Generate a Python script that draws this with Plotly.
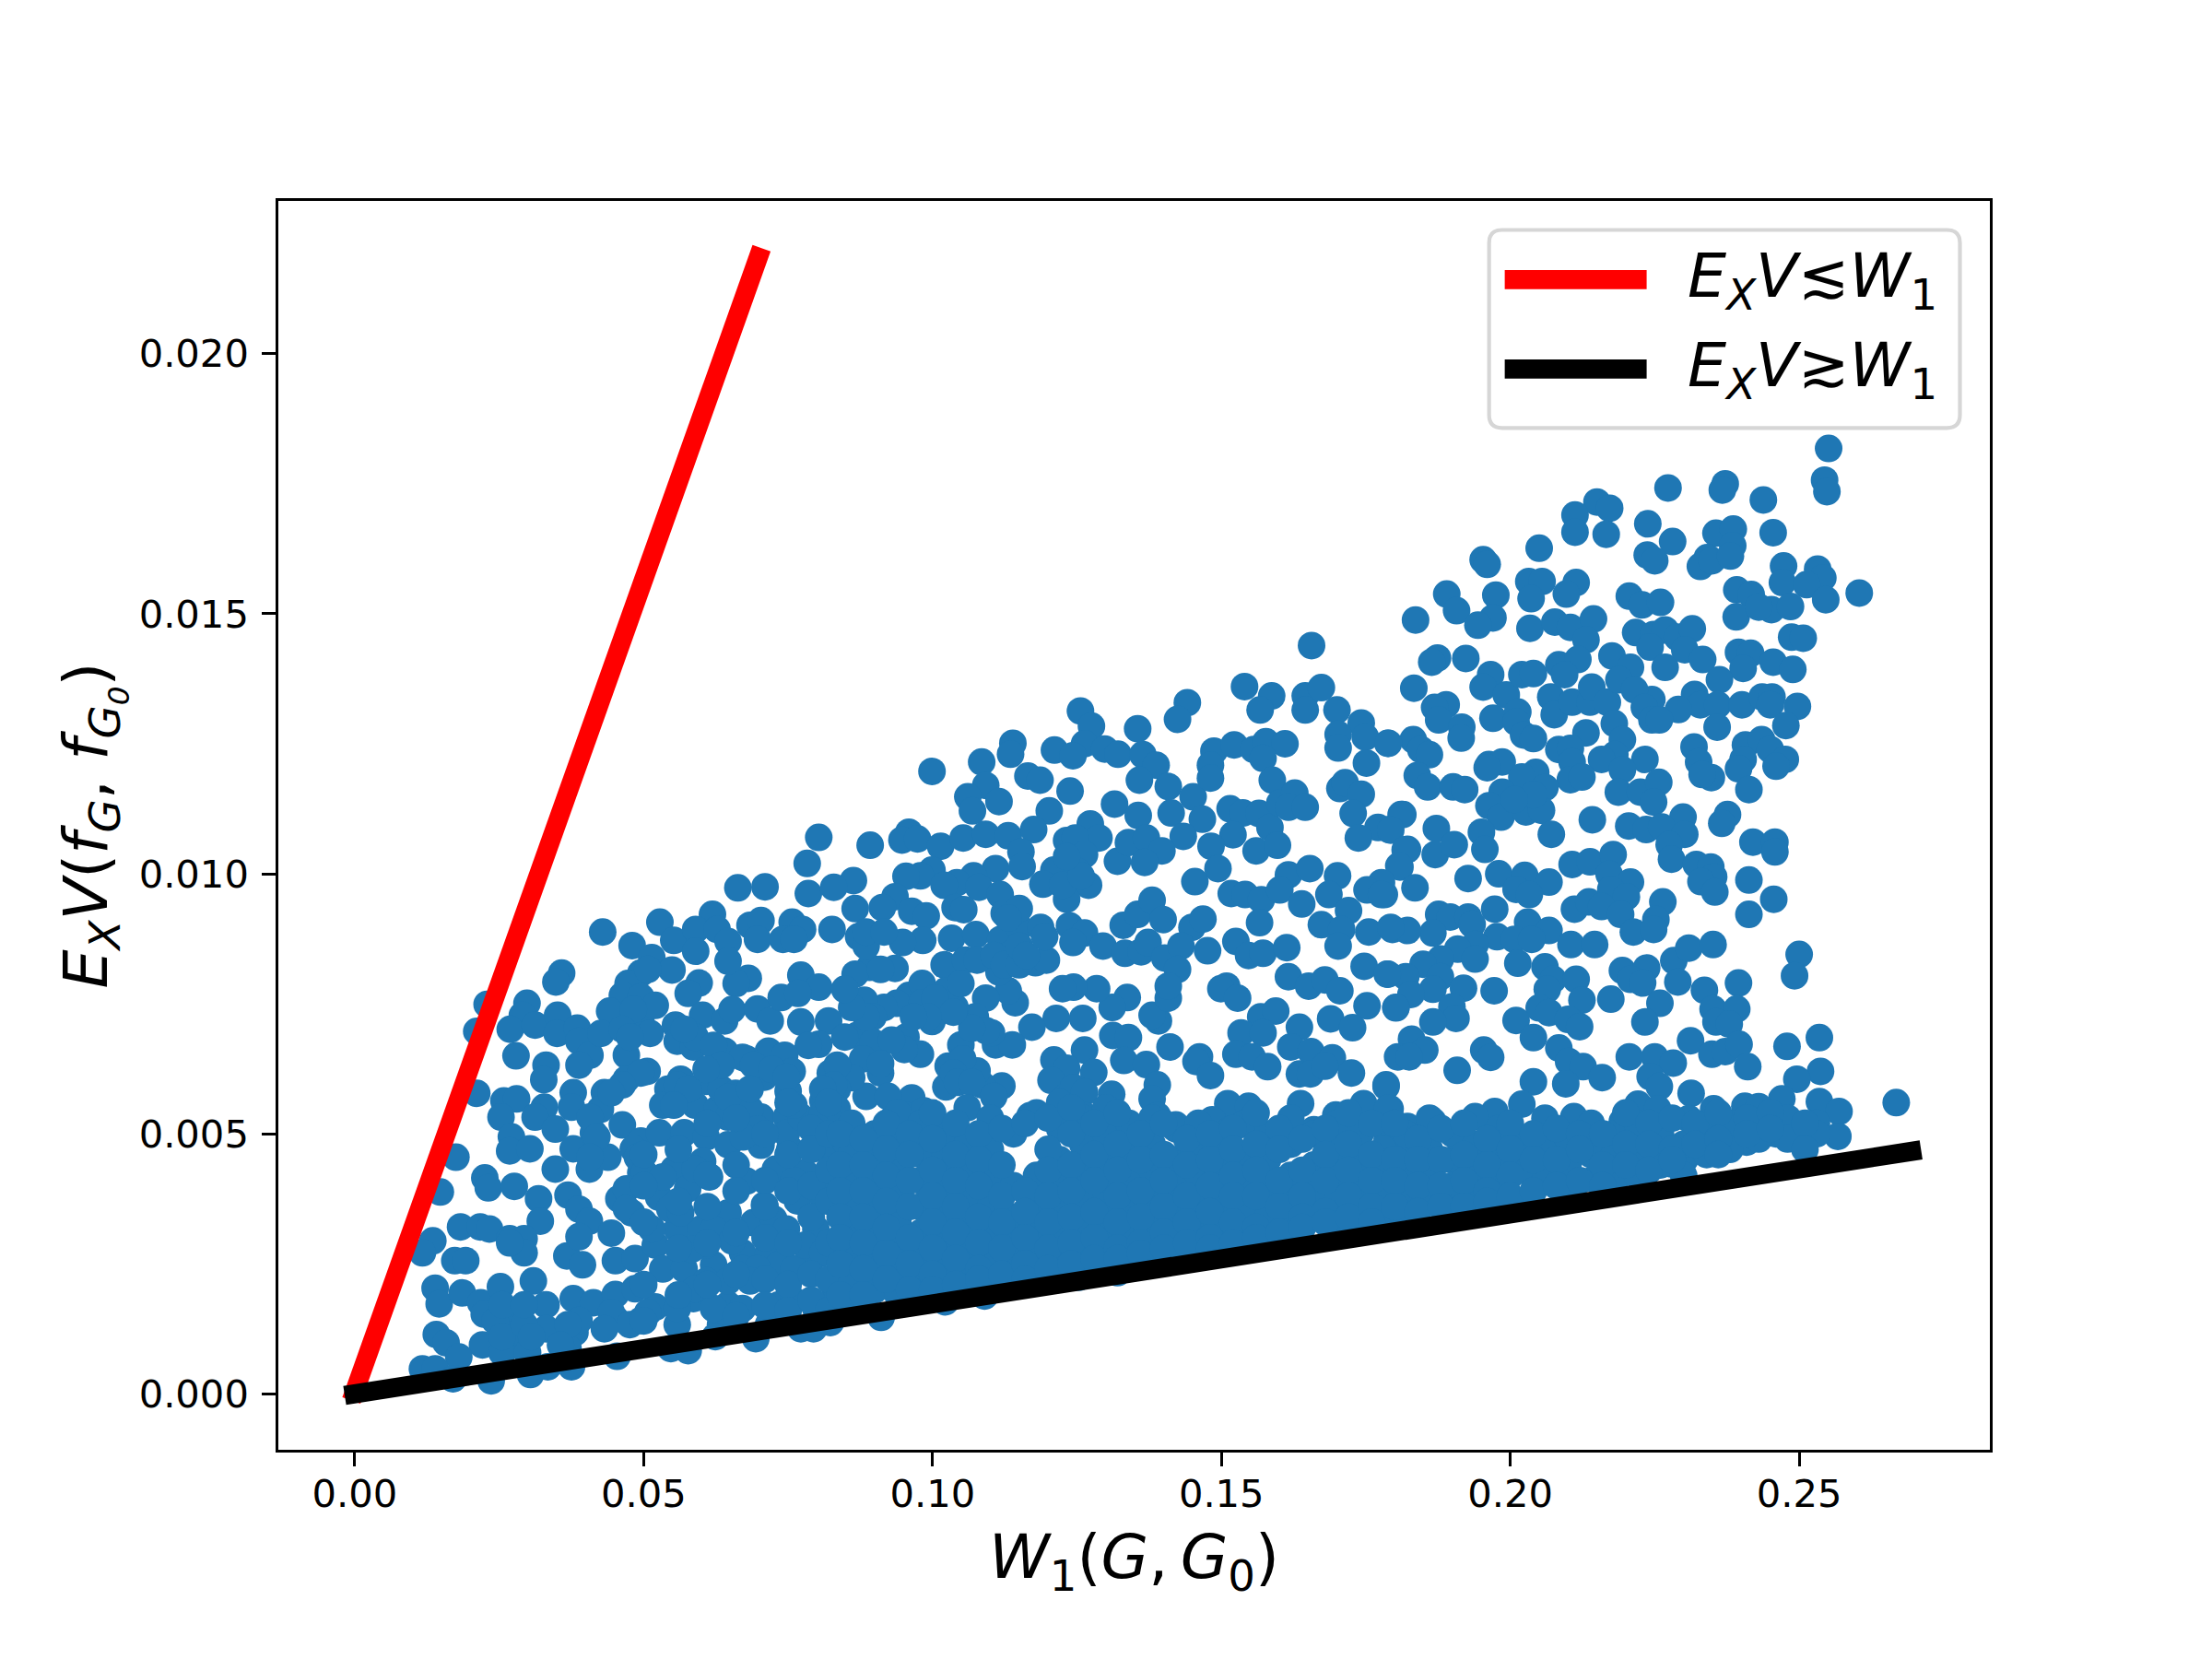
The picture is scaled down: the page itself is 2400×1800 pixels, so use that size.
import plotly.graph_objects as go

# reference lines (ends include the projecting line cap of the original)
red_x = [-0.0006, 0.0704]
red_y = [-0.00013, 0.02203]
black_x = [-0.00175, 0.2711]
black_y = [-0.00003, 0.00469]

x_ticks = [0.00, 0.05, 0.10, 0.15, 0.20, 0.25]
y_ticks = [0.000, 0.005, 0.010, 0.015, 0.020]

# scatter points, by region
upper_right_pts = [
    (.2551,.01818),(.2544,.01757),(.2548,.01735),(.2273,.01742),(.2372,.01750),(.2367,.01738),(.2438,.01719),
    (.2150,.01715),(.2172,.01703),(.2112,.01690),(.2112,.01657),(.2166,.01653),(.2238,.01673),(.2281,.01639),
    (.2356,.01655),(.2386,.01663),(.2385,.01631),(.2455,.01656),(.2050,.01626),(.1953,.01604),(.1960,.01595),
    (.2237,.01613),(.2250,.01602),(.2341,.01608),(.2329,.01591),(.2349,.01602),(.2381,.01611),(.2473,.01592),
    (.2471,.01560),(.2532,.01586),(.2541,.01569),(.2513,.01556),(.2546,.01527),(.2604,.01540),(.2032,.01562),
    (.2055,.01562),(.2036,.01529),(.2114,.01560),(.2097,.01538),(.1890,.01538),(.1975,.01536),(.1907,.01506),
    (.1970,.01492),(.1944,.01478),(.1836,.01488),(.2034,.01472),(.2077,.01484),(.2104,.01474),(.2144,.01490),
    (.2131,.01450),(.2206,.01534),(.2228,.01517),(.2260,.01522),(.2217,.01464),(.2248,.01460),(.2268,.01469),
    (.2289,.01455),(.2315,.01471),(.2242,.01436),(.2268,.01397),(.2302,.01431),(.2333,.01412),(.2392,.01546),
    (.2417,.01537),(.2391,.01494),(.2452,.01508),(.2485,.01514),(.2430,.01513),(.2487,.01455),(.2507,.01453),
    (.2395,.01426),(.2416,.01424),(.2403,.01395),(.2455,.01407),(.2489,.01393),(.2362,.01373),(.2319,.01345),
    (.2329,.01325),(.2359,.01325),(.2401,.01325),(.2436,.01340),(.2453,.01340),(.2450,.01325),(.2497,.01322),
    (.2477,.01285),(.2358,.01282),(.2291,.01316),(.2245,.01335),
    (.1874,.01415),(.1864,.01407),(.1923,.01414),(.1833,.01357),(.1889,.01325),(.1869,.01320),(.1876,.01296),
    (.1916,.01282),(.1915,.01261),(.1966,.01383),(.1953,.01359),(.1970,.01299),(.1993,.01344),(.2020,.01383),
    (.2040,.01385),(.2013,.01311),(.2010,.01292),(.2023,.01267),(.2040,.01260),(.2070,.01340),(.2076,.01306),
    (.2084,.01402),(.2117,.01412),(.2094,.01383),(.2107,.01330),(.2138,.01330),(.2141,.01359),(.2168,.01330),
    (.2176,.01419),(.2208,.01397),(.2188,.01373),(.2215,.01354),(.2232,.01320),(.2245,.01296),(.2258,.01296),
    (.2180,.01289),(.2131,.01271),(.2194,.01258),(.2084,.01239),(.2104,.01241),(.2181,.01229),(.2158,.01220),
    (.2233,.01220),(.2194,.01200),(.1788,.01251),(.1832,.01258),(.1845,.01239),(.1860,.01229),(.1839,.01189),
    (.1857,.01167),(.1901,.01167),(.1921,.01162),(.1963,.01210),(.1986,.01215),(.1960,.01204),(.2044,.01195),
    (.2020,.01186),(.2107,.01215),(.2104,.01181),(.2124,.01186),(.2060,.01166),(.1986,.01157),(.1963,.01131),
    (.1984,.01109),(.2027,.01119),(.2054,.01122),(.2040,.01152),(.2007,.01143),
]

lower_right_pts = [
    (.2318,.01244),(.2326,.01215),(.2348,.01185),(.2332,.01191),(.2407,.01248),(.2435,.01258),(.2450,.01239),
    (.2476,.01220),(.2460,.01207),(.2403,.01220),(.2395,.01202),(.2413,.01162),(.2187,.01157),(.2225,.01157),
    (.2257,.01176),(.2248,.01138),(.2299,.01109),(.2376,.01114),(.2366,.01097),(.2420,.01061),(.2458,.01061),
    (.2458,.01042),(.2142,.01104),(.2205,.01092),(.2235,.01085),(.2262,.01090),(.2302,.01076),(.2275,.01056),
    (.2279,.01028),(.2322,.01018),(.2347,.01013),(.2352,.00994),(.2330,.00985),(.2354,.00965),(.2413,.00988),
    (.2456,.00951),(.2413,.00922),(.2071,.01076),(.1872,.01087),(.1811,.01114),(.1791,.01085),(.1950,.01080),
    (.1956,.01047),(.1822,.01047),(.1870,.01037),(.1903,.01056),(.1809,.01013),(.1927,.00991),(.1980,.01000),
    (.2025,.00997),(.2067,.00984),(.2107,.01018),(.2138,.01023),(.2178,.01037),(.2171,.00999),(.2208,.00984),
    (.2174,.00970),(.2201,.00956),(.2010,.00970),(.2033,.00960),(.1835,.00973),(.1782,.00960),(.1876,.00922),
    (.1896,.00917),(.1927,.00917),(.1973,.00932),(.1934,.00903),(.1866,.00886),(.1796,.00893),(.1822,.00891),
    (.2030,.00907),(.2067,.00891),(.2111,.00932),(.2136,.00946),(.2158,.00937),(.2191,.00922),(.2264,.00946),
    (.2252,.00912),(.2213,.00888),(.2248,.00893),(.1977,.00879),(.2007,.00874),(.2037,.00874),(.2105,.00864),
    (.2146,.00864),(.1939,.00864),(.1909,.00855),(.1879,.00836),(.1849,.00826),(.1939,.00836),(.2013,.00828),
    (.2060,.00821),(.1788,.00807),(.1819,.00802),(.1879,.00802),(.1919,.00780),(.1972,.00775),(.1866,.00778),
    (.1828,.00768),(.1802,.00742),(.1899,.00744),(.1906,.00722),(.1866,.00715),(.2074,.00797),(.2114,.00797),
    (.2064,.00778),(.2124,.00757),(.2050,.00742),(.2067,.00733),(.2100,.00720),(.2120,.00706),(.2010,.00718),
    (.2040,.00685),(.2174,.00759),(.2194,.00814),(.2236,.00819),(.2208,.00797),(.2229,.00790),(.2283,.00833),
    (.2309,.00857),(.2351,.00864),(.2290,.00792),(.2259,.00751),(.2233,.00715),(.2336,.00776),(.2395,.00790),
    (.2351,.00740),(.2392,.00740),(.2356,.00715),(.2379,.00711),(.2312,.00679),(.2349,.00653),(.2372,.00658),
    (.2396,.00672),(.2411,.00629),(.2500,.00845),(.2492,.00804),(.2535,.00685),(.2479,.00668),(.2537,.00620),
    (.2496,.00605),(.1829,.00682),(.1852,.00661),(.1805,.00648),(.1825,.00648),(.1954,.00661),(.1966,.00647),
    (.1908,.00622),(.2084,.00665),(.2101,.00639),(.2126,.00629),(.2159,.00608),(.2040,.00600),(.2096,.00596),
    (.2206,.00648),(.2250,.00648),(.2282,.00636),(.2242,.00610),(.2258,.00591),(.2313,.00578),(.2668,.00560),
    (.2535,.00562),(.2569,.00543),(.2567,.00495),(.2507,.00490),(.2460,.00500),(.2470,.00567),(.2406,.00553),
    (.2430,.00552),(.2352,.00548),(.2409,.00484),(.2356,.00484),(.2309,.00529),(.2279,.00442),(.2302,.00451),
    (.2208,.00427),(.2181,.00431),(.2145,.00413),(.2221,.00557),(.2255,.00548),(.2194,.00524),(.2110,.00533),
    (.2141,.00490),(.2100,.00461),(.2074,.00427),(.2020,.00557),(.1973,.00543),(.1939,.00533),(.1866,.00524),
    (.1822,.00514),(.1792,.00548),(.1785,.00591),
]

middle_pts = [
    (.1656,.01439),(.1540,.01360),(.1587,.01342),(.1567,.01315),(.1645,.01342),(.1673,.01358),(.1645,.01315),
    (.1700,.01315),(.1742,.01290),(.1702,.01268),(.1749,.01263),(.1702,.01242),(.1789,.01251),(.1751,.01213),
    (.1705,.01164),(.1714,.01175),(.1742,.01153),(.1728,.01116),(.1814,.01114),(.1771,.01089),(.1793,.01084),
    (.1737,.01069),(.1818,.01046),(.1807,.01015),(.1777,.00983),(.1752,.00969),(.1777,.00960),
    (.1441,.01329),(.1424,.01297),(.1355,.01279),(.1256,.01313),(.1275,.01284),(.1263,.01250),(.1298,.01240),
    (.1321,.01230),(.1364,.01229),(.1387,.01209),(.1358,.01180),(.1408,.01168),(.1451,.01148),(.1413,.01117),
    (.1487,.01236),(.1481,.01209),(.1481,.01184),(.1522,.01248),(.1556,.01239),(.1577,.01254),(.1610,.01250),
    (.1572,.01222),(.1588,.01180),(.1211,.01238),(.1243,.01227),(.1139,.01251),(.1135,.01230),(.1085,.01215),
    (.0999,.01197),(.1165,.01188),(.1186,.01180),(.1238,.01159),(.1092,.01170),(.1061,.01148),(.1115,.01139),
    (.1069,.01121),(.1202,.01121),(.1315,.01134),(.1356,.01112),(.1467,.01105),(.1434,.01072),(.1515,.01125),
    (.1537,.01117),(.1520,.01075),(.1482,.01053),(.1565,.01116),(.1584,.01089),(.1601,.01136),(.1627,.01155),
    (.1616,.01128),(.1645,.01128),(.1560,.01044),(.1597,.01055),(.1494,.01010),(.1454,.00985),
    (.0959,.01080),(.0947,.01065),(.0974,.01067),(.0892,.01055),(.1014,.01053),(.1053,.01069),(.1092,.01076),
    (.1131,.01073),(.1175,.01085),(.1153,.01042),(.1155,.01014),(.1232,.01064),(.1273,.01096),(.1288,.01069),
    (.1247,.01069),(.1263,.01037),(.1320,.01024),(.1339,.01060),(.1370,.01069),(.1397,.01044),(.1367,.01022),
    (.1210,.01007),(.1250,.01005),(.1270,.00978),(.1191,.00980),(.1232,.00951),(.1109,.01010),(.1071,.00996),
    (.1042,.00983),(.0999,.01007),(.0979,.00996),(.0954,.00995),(.1020,.00978),(.1080,.00974),(.1117,.00960),
    (.0935,.00956),(.0913,.00935),(.0964,.00928),(.0989,.00919),(.1039,.00935),(.1054,.00931),(.1124,.00924),
    (.0983,.00872),(.0948,.00868),(.1033,.00876),(.1075,.00883),(.1118,.00874),(.1150,.00897),(.1187,.00897),
    (.1237,.00900),(.1263,.00886),(.1243,.00868),(.1295,.00861),(.1333,.00847),(.1361,.00850),(.1373,.00868),
    (.1402,.00838),(.1330,.00901),(.1355,.00922),(.1380,.00949),(.1399,.00912),(.1449,.00897),(.1468,.00913),
    (.1430,.00861),(.1476,.00852),(.1424,.00816),(.1517,.00962),(.1541,.00960),(.1569,.00950),(.1566,.00906),
    (.1525,.00870),(.1547,.00843),(.1572,.00847),(.1613,.00858),(.1616,.00998),(.1653,.01010),(.1701,.00996),
    (.1601,.00969),(.1639,.00942),(.1686,.00960),(.1720,.00929),(.1673,.00902),(.1708,.00893),(.1702,.00861),
    (.1755,.00888),(.1793,.00897),(.1747,.00822),(.1787,.00807),(.1616,.00802),(.1651,.00784),(.1679,.00796),
    (.1705,.00775),(.1752,.00746),(.1802,.00743),(.1689,.00721),(.1727,.00704),(.1509,.00784),(.1499,.00779),
    (.1528,.00761),(.1568,.00725),(.1594,.00736),(.1635,.00705),(.1534,.00694),(.1572,.00694),(.1525,.00653),
    (.1553,.00648),(.1580,.00629),(.1620,.00667),(.1655,.00658),(.1692,.00646),(.1635,.00615),(.1654,.00615),
    (.1679,.00630),(.1725,.00617),(.1337,.00762),(.1311,.00743),(.1284,.00779),(.1244,.00782),(.1225,.00779),
    (.1260,.00722),(.1214,.00722),(.1172,.00705),(.1391,.00717),(.1380,.00728),(.1408,.00761),(.1408,.00784),
    (.1312,.00689),(.1339,.00685),(.1411,.00667),(.1331,.00641),(.1370,.00633),(.1462,.00648),(.1456,.00639),
    (.1481,.00612),(.1263,.00661),(.1210,.00642),(.1279,.00618),(.1232,.00626),(.1205,.00603),(.1120,.00592),
    (.1086,.00594),(.1077,.00621),(.1049,.00671),(.1109,.00671),(.1138,.00671),(.1102,.00694),(.1143,.00752),
    (.1131,.00775),(.1092,.00761),(.1074,.00725),(.1039,.00743),(.0999,.00716),(.0973,.00739),(.0959,.00766),
    (.0938,.00751),(.0916,.00743),(.0882,.00757),(.0897,.00725),(.1020,.00825),(.1057,.00834),(.1115,.00811),
    (.1178,.00829),(.1197,.00834),(.1137,.00847),(.0935,.00818),(.0891,.00820),(.0982,.00789),(.1023,.00775),
    (.0869,.00689),(.0897,.00676),(.0954,.00686),(.0979,.00653),(.0951,.00662),(.0910,.00617),(.1027,.00630),
    (.1052,.00644),(.1023,.00590),(.0964,.00569),(.1310,.00576),(.1389,.00594),(.1380,.00567),(.1511,.00558),
    (.1547,.00553),(.1637,.00558),(.1698,.00536),(.1746,.00558),(.1785,.00594),(.1788,.00549),
    (.0911,.00147),(.1022,.00177),(.1090,.00188),(.1253,.00224),(.1320,.00233),(.1347,.00242),
    # second pass over the lacy part
    (.0872,.00879),(.0885,.00861),(.0863,.00987),(.0866,.00933),(.0885,.00888),(.0916,.00888),(.0866,.00807),
    (.0910,.00816),(.0982,.00752),(.1004,.00761),(.1049,.00789),(.1077,.00834),(.1106,.00843),(.1124,.00825),
    (.1150,.00825),(.1150,.00933),(.1131,.00915),(.1150,.00861),(.1162,.00843),(.1194,.00879),(.1225,.00978),
    (.1257,.00996),(.1232,.01033),(.1093,.00698),(.1068,.00703),(.1036,.00734),(.0992,.00725),(.0967,.00725),
    (.0885,.00725),(.0860,.00743),(.0929,.00680),(.0879,.00644),(.0910,.00635),(.1036,.00617),(.1043,.00599),
    (.1068,.00599),(.0992,.00535),(.0935,.00535),(.0885,.00572),(.0860,.00608),(.0923,.00572),(.0954,.00535),
    (.0985,.00544),(.1106,.00572),(.1169,.00535),(.1232,.00572),(.1244,.00589),(.1263,.00580),(.1232,.00535),
    (.1263,.00535),(.1295,.00535),(.1307,.00499),(.1339,.00490),(.1389,.00535),(.1421,.00517),(.1452,.00508),
    (.1484,.00527),(.1515,.00508),(.1547,.00517),(.1609,.00499),(.1660,.00508),(.1698,.00462),(.1736,.00481),
    (.1787,.00491),(.1825,.00481),
]

left_pts = [
    (.0803,.01070),(.0783,.01020),(.0785,.00962),(.0663,.00973),(.0710,.00975),(.0829,.00974),(.0429,.00888),
    (.0480,.00862),(.0528,.00907),(.0619,.00922),(.0552,.00872),(.0590,.00893),(.0590,.00851),(.0627,.00893),
    (.0684,.00901),(.0703,.00910),(.0757,.00907),(.0775,.00893),(.0741,.00874),(.0760,.00874),(.0697,.00874),
    (.0826,.00893),(.0646,.00870),(.0514,.00839),(.0549,.00815),(.0495,.00809),(.0473,.00789),(.0463,.00766),
    (.0596,.00790),(.0577,.00770),(.0681,.00799),(.0660,.00789),(.0646,.00832),(.0358,.00809),(.0348,.00792),
    (.0298,.00751),(.0229,.00749),(.0211,.00697),(.0290,.00728),(.0269,.00701),(.0312,.00709),(.0351,.00728),
    (.0350,.00693),(.0385,.00703),(.0279,.00650),(.0331,.00632),(.0327,.00604),(.0388,.00678),(.0407,.00651),
    (.0388,.00632),(.0441,.00736),(.0495,.00717),(.0426,.00693),(.0511,.00693),(.0470,.00651),(.0506,.00620),
    (.0470,.00605),(.0555,.00709),(.0558,.00678),(.0586,.00667),(.0602,.00728),(.0640,.00717),(.0653,.00739),
    (.0697,.00740),(.0719,.00717),(.0738,.00762),(.0772,.00805),(.0803,.00782),(.0767,.00770),(.0772,.00715),
    (.0820,.00717),(.0803,.00672),(.0785,.00670),(.0848,.00778),(.0848,.00686),(.0716,.00659),(.0744,.00651),
    (.0757,.00620),(.0640,.00659),(.0678,.00644),(.0709,.00609),(.0750,.00582),(.0823,.00617),(.0810,.00563),
    (.0542,.00586),(.0564,.00605),(.0609,.00601),(.0533,.00555),(.0589,.00555),(.0627,.00547),(.0665,.00563),
    (.0703,.00532),(.0747,.00532),(.0835,.00586),(.0378,.00579),(.0375,.00551),(.0432,.00579),(.0425,.00547),
    (.0463,.00517),(.0258,.00563),(.0280,.00567),(.0253,.00532),(.0328,.00551),(.0312,.00532),(.0347,.00509),
    (.0211,.00578),(.0271,.00494),(.0268,.00467),(.0303,.00471),(.0175,.00455),(.0148,.00388),(.0225,.00415),
    (.0231,.00396),(.0276,.00399),(.0347,.00432),(.0378,.00471),(.0413,.00502),(.0406,.00432),(.0438,.00455),
    (.0495,.00486),(.0482,.00471),(.0527,.00502),(.0570,.00502),(.0608,.00494),(.0552,.00432),(.0495,.00425),
    (.0526,.00378),(.0457,.00375),(.0602,.00447),(.0646,.00479),(.0703,.00478),(.0753,.00471),(.0678,.00409),
    (.0728,.00432),(.0779,.00425),(.0823,.00471),(.0823,.00409),(.0318,.00375),(.0369,.00382),(.0388,.00355),
    (.0406,.00332),(.0321,.00332),(.0479,.00348),(.0558,.00317),(.0599,.00317),(.0646,.00348),(.0690,.00329),
    (.0725,.00336),(.0766,.00371),(.0798,.00317),(.0842,.00348),(.0183,.00321),(.0217,.00321),(.0233,.00317),
    (.0135,.00294),(.0117,.00271),(.0173,.00256),(.0192,.00256),(.0268,.00298),(.0293,.00298),(.0293,.00271),
    (.0268,.00290),(.0367,.00265),(.0394,.00248),(.0451,.00256),(.0485,.00260),(.0444,.00309),(.0388,.00302),
    (.0520,.00286),(.0533,.00240),(.0570,.00240),(.0621,.00248),(.0671,.00271),(.0716,.00271),(.0791,.00265),
    (.0842,.00248),(.0734,.00248),(.0139,.00203),(.0146,.00173),(.0186,.00194),(.0218,.00175),(.0252,.00206),
    (.0309,.00217),(.0331,.00171),(.0378,.00183),(.0413,.00175),(.0451,.00191),(.0485,.00202),(.0520,.00167),
    (.0586,.00183),(.0646,.00171),(.0734,.00171),(.0826,.00179),(.0224,.00153),(.0280,.00148),(.0451,.00144),
    (.0558,.00133),(.0633,.00133),(.0716,.00133),(.0141,.00114),(.0158,.00098),(.0221,.00094),(.0274,.00094),
    (.0331,.00125),(.0381,.00118),(.0369,.00087),(.0180,.00071),(.0255,.00079),(.0299,.00079),(.0117,.00048),
    (.0139,.00048),(.0170,.00029),(.0236,.00025),(.0304,.00037),(.0334,.00052),(.0375,.00052),(.0454,.00072),
    (.0547,.00087),(.0577,.00083),(.0624,.00110),(.0694,.00106),(.0772,.00125),(.0794,.00125),(.0823,.00137),
    # second pass over the lacy part
    (.0634,.00586),(.0659,.00578),(.0684,.00547),(.0646,.00532),(.0697,.00509),(.0672,.00494),(.0407,.00532),
    (.0419,.00494),(.0407,.00455),(.0489,.00455),(.0501,.00425),(.0470,.00394),(.0470,.00356),(.0514,.00317),
    (.0545,.00356),(.0576,.00394),(.0589,.00432),(.0614,.00417),(.0533,.00417),(.0564,.00348),(.0621,.00317),
    (.0653,.00294),(.0608,.00286),(.0583,.00278),(.0671,.00240),(.0697,.00240),(.0608,.00217),(.0646,.00217),
    (.0684,.00217),(.0760,.00240),(.0779,.00286),(.0848,.00286),(.0747,.00317),(.0709,.00363),(.0760,.00410),
    (.0791,.00471),(.0747,.00501),(.0810,.00525),(.0772,.00532),(.0848,.00486),(.0848,.00409),(.0810,.00379),
    (.0810,.00271),(.0495,.00763),(.0520,.00747),(.0482,.00739),(.0507,.00816),(.0463,.00701),(.0476,.00686),
    (.0495,.00617),(.0463,.00594),(.0444,.00579),(.0558,.00594),(.0577,.00586),(.0552,.00555),(.0589,.00686),
    (.0570,.00701),(.0621,.00670),(.0671,.00647),(.0690,.00632),(.0722,.00624),(.0747,.00609),(.0634,.00632),
    (.0608,.00624),(.0835,.00632),(.0829,.00594),(.0810,.00586),(.0810,.00540),(.0760,.00555),(.0835,.00548),
    (.0646,.00570),(.0684,.00586),(.0621,.00164),(.0671,.00164),(.0760,.00179),(.0798,.00164),(.0243,.00140),
    (.0255,.00110),(.0293,.00133),(.0306,.00110),(.0255,.00171),(.0293,.00171),(.0388,.00141),(.0444,.00156),
    (.0369,.00133),(.0356,.00094),(.0495,.00141),(.0558,.00164),(.0589,.00202),(.0507,.00156),(.0476,.00133),
    (.0432,.00125),
]

# the solid part of the cloud, column by column: (W1, [ExV values])
dense_columns = [
    (.050, [.0046,.0040,.0033,.0021,.0014]), (.056, [.0047,.0037,.0028,.0019]),
    (.061, [.0052,.0042,.0036,.0029,.0021]), (.066, [.0053,.0044,.0039,.0031,.0023,.0015]),
    (.071, [.0050,.0041,.0036,.0030,.0022,.0017]), (.075, [.0056,.0046,.0039,.0029,.0021,.0016]),
    (.079, [.0051,.0047,.0040,.0034,.0023,.0018]), (.082, [.0056,.0050,.0043,.0037,.0029,.0022,.0016]),
    (.086, [.0052,.0047,.0042,.0037,.0032,.0027,.0022,.0017]), (.090, [.0050,.0045,.0040,.0035,.0030,.0025,.0020]),
    (.094, [.0054,.0049,.0044,.0038,.0033,.0028,.0023,.0019]), (.098, [.0052,.0046,.0041,.0036,.0031,.0026,.0021]),
    (.102, [.0050,.0045,.0039,.0034,.0029,.0024,.0020]), (.106, [.0055,.0048,.0043,.0038,.0032,.0027,.0022]),
    (.110, [.0053,.0047,.0041,.0036,.0031,.0026,.0021]), (.114, [.0050,.0040,.0034,.0029,.0024]),
    (.118, [.0054,.0042,.0037,.0032,.0027,.0023]), (.122, [.0056,.0051,.0045,.0040,.0035,.0030,.0025]),
    (.126, [.0053,.0048,.0042,.0037,.0032,.0027]), (.130, [.0055,.0050,.0044,.0039,.0034,.0029,.0025]),
    (.134, [.0052,.0046,.0041,.0036,.0031,.0026]), (.138, [.0053,.0048,.0043,.0037,.0032,.0027]),
    (.142, [.0051,.0045,.0040,.0035,.0030,.0026]), (.146, [.0052,.0047,.0042,.0036,.0031,.0027]),
    (.150, [.0049,.0044,.0039,.0034,.0029]), (.154, [.0052,.0046,.0041,.0036,.0031]),
    (.158, [.0050,.0045,.0040,.0034,.0030]), (.162, [.0053,.0048,.0042,.0037,.0032]),
    (.166, [.0050,.0044,.0039,.0034]), (.170, [.0052,.0047,.0042,.0037,.0032]),
    (.174, [.0050,.0045,.0040,.0034]), (.178, [.0047,.0042,.0037,.0033]),
    (.182, [.0050,.0044,.0039,.0034]), (.186, [.0053,.0047,.0042,.0037]),
    (.190, [.0050,.0045,.0040,.0035]), (.194, [.0048,.0043,.0038]),
    (.198, [.0051,.0046,.0040,.0036]), (.202, [.0049,.0043,.0037]),
    (.206, [.0053,.0047,.0041]), (.210, [.0049,.0044,.0038]),
    (.214, [.0052,.0046]), (.218, [.0050,.0046,.0040]),
    (.222, [.0052,.0047,.0042]), (.226, [.0050,.0044]),
    (.230, [.0048,.0042]), (.234, [.0051,.0046]),
    (.238, [.0052,.0047]), (.243, [.0052,.0049]),
    (.248, [.0053,.0049]), (.253, [.0052,.0050]),
]

# the same part again, between the columns above, to close the gaps
dense_columns_between = [
    (.084, [.0050,.0044,.0039,.0034,.0030,.0025,.0019]), (.088, [.0049,.0044,.0039,.0034,.0029,.0024,.0019]),
    (.092, [.0052,.0047,.0042,.0037,.0032,.0027,.0022]), (.096, [.0050,.0046,.0041,.0036,.0030,.0025,.0020]),
    (.100, [.0054,.0049,.0043,.0038,.0033,.0028,.0023,.0020]), (.104, [.0052,.0046,.0041,.0036,.0031,.0026,.0021]),
    (.108, [.0050,.0045,.0040,.0034,.0029,.0024,.0022]), (.112, [.0051,.0044,.0038,.0033,.0028,.0023]),
    (.116, [.0052,.0039,.0035,.0030,.0025,.0022]), (.120, [.0053,.0047,.0043,.0038,.0033,.0028,.0024]),
    (.124, [.0055,.0050,.0044,.0039,.0034,.0029,.0025]), (.128, [.0052,.0046,.0041,.0035,.0030,.0026]),
    (.132, [.0054,.0048,.0043,.0038,.0033,.0028,.0026]), (.136, [.0050,.0045,.0039,.0034,.0029,.0027]),
    (.140, [.0052,.0046,.0041,.0036,.0031,.0028]), (.144, [.0049,.0044,.0038,.0033,.0029]),
    (.148, [.0050,.0045,.0040,.0035,.0030,.0028]), (.152, [.0051,.0047,.0042,.0038,.0033,.0029]),
    (.156, [.0054,.0048,.0043,.0038,.0032,.0030]), (.160, [.0051,.0047,.0041,.0036,.0031]),
    (.164, [.0049,.0043,.0038,.0034,.0032]), (.168, [.0051,.0046,.0041,.0035,.0033]),
    (.172, [.0054,.0048,.0043,.0038,.0034]), (.176, [.0052,.0046,.0041,.0036,.0033]),
    (.180, [.0052,.0045,.0041,.0036]), (.184, [.0049,.0045,.0040,.0035]),
    (.188, [.0051,.0045,.0040,.0036]), (.192, [.0052,.0046,.0041,.0036]),
    (.196, [.0049,.0044,.0039,.0037]), (.200, [.0052,.0047,.0042,.0038]),
    (.204, [.0050,.0045,.0039]), (.208, [.0051,.0045,.0040]),
    (.212, [.0050,.0047,.0041]), (.216, [.0050,.0044,.0040]),
    (.220, [.0054,.0048,.0044]), (.224, [.0052,.0048,.0043]),
    (.228, [.0053,.0047,.0045]), (.232, [.0052,.0048]),
    (.236, [.0054,.0049,.0046]), (.241, [.0053,.0050]),
    (.245, [.0054,.0051]), (.251, [.0052,.0047]),
]

w1_vals = []
exv_vals = []
for pts in (upper_right_pts, lower_right_pts, middle_pts, left_pts):
    for x, y in pts:
        w1_vals.append(x)
        exv_vals.append(y)
for cols in (dense_columns, dense_columns_between):
    for x, ys in cols:
        for y in ys:
            w1_vals.append(x)
            exv_vals.append(y)

# plot area in page pixels (plotly draws the frame just outside it)
PAGE_W, PAGE_H = 2400, 1800
AX_L, AX_R, AX_T, AX_B = 302, 2159.5, 217.5, 1573.5


def pap_x(px):
    return (px - AX_L) / (AX_R - AX_L)


def pap_y(px):
    return (AX_B - px) / (AX_B - AX_T)


MPL_FONT = "DejaVu Sans"
TICK_SIZE = 41.67
LABEL_SIZE = 66.67
LINE_W = 20.8

fig = go.Figure()
fig.add_trace(go.Scatter(x=w1_vals, y=exv_vals, mode="markers", showlegend=False,
                         marker=dict(color="#1f77b4", size=30, line=dict(width=0))))
fig.add_trace(go.Scatter(x=red_x, y=red_y, mode="lines", showlegend=False,
                         line=dict(color="#ff0000", width=LINE_W)))
fig.add_trace(go.Scatter(x=black_x, y=black_y, mode="lines", showlegend=False,
                         line=dict(color="#000000", width=LINE_W)))

# legend drawn by hand: plotly caps legend line widths
lx0, lx1, ly0, ly1, r = pap_x(1616), pap_x(2127), pap_y(249), pap_y(464), 14
rx = r / (AX_R - AX_L)
ry = r / (AX_B - AX_T)
legend_box = (f"M {lx0 + rx} {ly0} L {lx1 - rx} {ly0} Q {lx1} {ly0} {lx1} {ly0 - ry} "
              f"L {lx1} {ly1 + ry} Q {lx1} {ly1} {lx1 - rx} {ly1} "
              f"L {lx0 + rx} {ly1} Q {lx0} {ly1} {lx0} {ly1 + ry} "
              f"L {lx0} {ly0 - ry} Q {lx0} {ly0} {lx0 + rx} {ly0} Z")
shapes = [
    dict(type="path", xref="paper", yref="paper", path=legend_box, layer="above",
         fillcolor="rgba(255,255,255,0.8)", line=dict(color="#d6d6d6", width=4.2)),
    dict(type="line", xref="paper", yref="paper", x0=pap_x(1633), x1=pap_x(1787), y0=pap_y(303), y1=pap_y(303),
         layer="above", line=dict(color="#ff0000", width=LINE_W)),
    dict(type="line", xref="paper", yref="paper", x0=pap_x(1633), x1=pap_x(1787), y0=pap_y(400), y1=pap_y(400),
         layer="above", line=dict(color="#000000", width=LINE_W)),
]
legend_texts = [
    ("<i>E<sub>X</sub>V</i>≲<i>W</i><sub>1</sub>", 303),
    ("<i>E<sub>X</sub>V</i>≳<i>W</i><sub>1</sub>", 400),
]
annotations = [
    dict(text=t, xref="paper", yref="paper", x=pap_x(1829), y=pap_y(py), xanchor="left", yanchor="middle",
         showarrow=False, font=dict(family=MPL_FONT, size=LABEL_SIZE, color="black"))
    for t, py in legend_texts
]

axis_style = dict(showgrid=False, zeroline=False, showline=True, mirror=True, linecolor="black", linewidth=3.33,
                  ticks="outside", ticklen=14.6, tickwidth=3.33, tickcolor="black",
                  tickfont=dict(family=MPL_FONT, size=TICK_SIZE, color="black"))

fig.update_layout(
    width=PAGE_W, height=PAGE_H, autosize=False,
    margin=dict(l=AX_L, r=PAGE_W - AX_R, t=AX_T, b=PAGE_H - AX_B, pad=0),
    paper_bgcolor="white", plot_bgcolor="white",
    shapes=shapes, annotations=annotations,
    xaxis=dict(range=[-0.01324, 0.28301], tickvals=x_ticks, tickformat=".2f", ticklabelstandoff=-6,
               title=dict(text="<i>W</i><sub>1</sub>(<i>G</i>,\u2009<i>G</i><sub>0</sub>)", standoff=22,
                          font=dict(family=MPL_FONT, size=LABEL_SIZE, color="black")), **axis_style),
    yaxis=dict(range=[-0.001077, 0.02294], tickvals=y_ticks, tickformat=".3f", ticklabelstandoff=6,
               title=dict(text="<i>E<sub>X</sub>V</i>(<i>f<sub>G</sub></i>, <i>f<sub>G<sub>0</sub></sub></i>)", standoff=13,
                          font=dict(family=MPL_FONT, size=LABEL_SIZE, color="black")), **axis_style),
)

fig.write_html("out.html", post_script="document.body.style.margin='0';", config=dict(displayModeBar=False))
